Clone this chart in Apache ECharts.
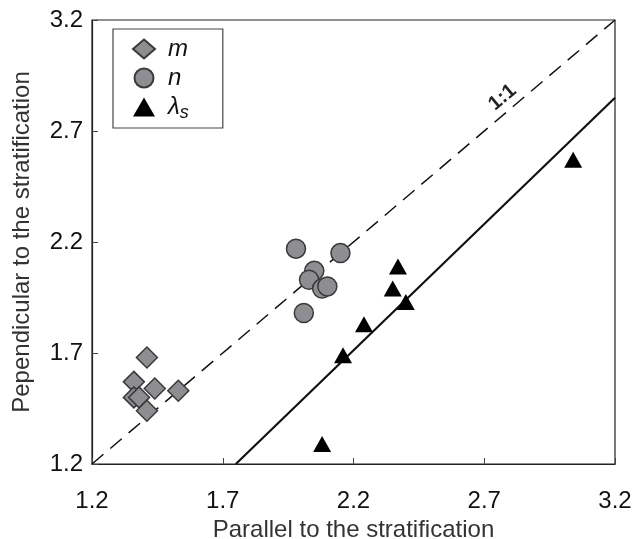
<!DOCTYPE html>
<html>
<head>
<meta charset="utf-8">
<script src="https://cdn.jsdelivr.net/npm/echarts@6/dist/echarts.min.js"></script>
<style>
  html, body { margin: 0; padding: 0; background: #fff; }
  #chart { width: 638px; height: 539px; }
</style>
</head>
<body>
<div id="chart"></div>
<script>
// values: [parallel, perpendicular]
var mPoints = [[1.41, 1.68], [1.36, 1.57], [1.44, 1.54], [1.53, 1.53], [1.36, 1.50], [1.38, 1.50], [1.41, 1.44]];
var nPoints = [[1.98, 2.17], [2.15, 2.15], [2.05, 2.07], [2.03, 2.03], [2.08, 1.99], [2.10, 2.00], [2.01, 1.88]];
var lambdaPoints = [[2.37, 2.09], [2.35, 1.99], [2.40, 1.93], [2.24, 1.83], [2.16, 1.69], [2.08, 1.29], [3.04, 2.57]];
var oneToOne = [[1.2, 1.2], [3.2, 3.2]];
var fitLine = [[1.75, 1.2], [3.2, 2.85]];

var font = "Liberation Sans, Arial, sans-serif";
var grey = '#8e8e92';
var edge = '#3a3a3a';

var chart = echarts.init(document.getElementById('chart'));

var option = {
    animation: false,
    grid: {
        left: 92, right: 23, top: 20, bottom: 75,
        outerBoundsMode: 'none',
        show: true, borderColor: '#222', borderWidth: 1.2
    },
    legend: {
        orient: 'vertical',
        left: 113, top: 29,
        padding: [8, 34, 6, 19],
        itemGap: 5,
        itemWidth: 22, itemHeight: 19,
        borderColor: '#444', borderWidth: 1.2,
        backgroundColor: '#fff',
        data: ['m', 'n', 'λs'],
        textStyle: {
            fontFamily: font, fontSize: 24, color: '#111',
            padding: [0, 0, 0, 8],
            rich: {
                it: { fontFamily: font, fontSize: 24, fontStyle: 'italic', color: '#111' },
                sub: { fontFamily: font, fontSize: 18, fontStyle: 'italic', color: '#111', verticalAlign: 'bottom', padding: [12, 0, 0, 0] }
            }
        },
        formatter: function (name) {
            if (name === 'λs') return '{it|λ}{sub|s}';
            return '{it|' + name + '}';
        }
    },
    xAxis: {
        type: 'value', min: 1.2, max: 3.2, interval: 0.5,
        name: 'Parallel to the stratification',
        nameLocation: 'middle', nameGap: 49,
        nameTextStyle: { fontFamily: font, fontSize: 24, color: '#333' },
        axisLine: { show: true, lineStyle: { color: '#222', width: 1.2 } },
        axisTick: { show: true, inside: true, length: 6, lineStyle: { color: '#444' } },
        axisLabel: { fontFamily: font, fontSize: 24, color: '#111', margin: 25,
            formatter: function (v) { return v.toFixed(1); } },
        splitLine: { show: false }
    },
    yAxis: {
        type: 'value', min: 1.2, max: 3.2, interval: 0.5,
        name: 'Pependicular to the stratification',
        nameLocation: 'middle', nameGap: 58,
        nameTextStyle: { fontFamily: font, fontSize: 24, color: '#333' },
        axisLine: { show: true, lineStyle: { color: '#222', width: 1.2 } },
        axisTick: { show: true, inside: true, length: 6, lineStyle: { color: '#444' } },
        axisLabel: { fontFamily: font, fontSize: 24, color: '#111', margin: 9,
            formatter: function (v) { return v.toFixed(1); } },
        splitLine: { show: false }
    },
    series: [
        {
            name: '1:1', type: 'line', data: oneToOne, symbol: 'none', silent: true,
            lineStyle: { color: '#111', width: 1.5, type: [15, 9] }, z: 1
        },
        {
            name: 'fit', type: 'line', data: fitLine, symbol: 'none', silent: true,
            lineStyle: { color: '#111', width: 2.2 }, z: 1
        },
        {
            name: 'm', type: 'scatter', data: mPoints, symbol: 'diamond', symbolSize: [21, 21],
            itemStyle: { color: grey, borderColor: edge, borderWidth: 1.5, opacity: 1 }, z: 3
        },
        {
            name: 'n', type: 'scatter', data: nPoints, symbol: 'circle', symbolSize: 19,
            itemStyle: { color: grey, borderColor: edge, borderWidth: 1.5, opacity: 1 }, z: 3
        },
        {
            name: 'λs', type: 'scatter', data: lambdaPoints, symbol: 'triangle', symbolSize: [18, 16],
            itemStyle: { color: '#000', opacity: 1 }, z: 3
        }
    ]
};

chart.setOption(option);

// "1:1" label along the dashed line
var p = chart.convertToPixel({ gridIndex: 0 }, [2.77, 2.77]);
chart.setOption({
    graphic: [{
        type: 'text',
        x: p[0], y: p[1] - 18,
        rotation: Math.atan2(222, 261.5),
        style: {
            text: '1:1', fontFamily: font, fontSize: 20, fontWeight: 'bold',
            fill: '#222', align: 'center', verticalAlign: 'middle'
        }
    }]
});
</script>
</body>
</html>
